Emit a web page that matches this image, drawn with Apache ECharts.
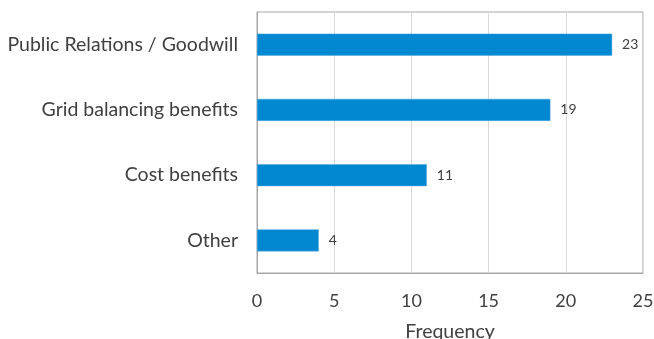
<!DOCTYPE html>
<html><head><meta charset="utf-8">
<script src="https://cdn.jsdelivr.net/npm/echarts@6/dist/echarts.min.js"></script>
<style>html,body{margin:0;padding:0;background:#fff}#c{width:654px;height:339px}</style>
</head><body><div id="c"></div>
<script>
const categories = ["Other", "Cost benefits", "Grid balancing benefits", "Public Relations / Goodwill"];
const frequency = [4, 11, 19, 23];
const xTicks = [0, 5, 10, 15, 20, 25];
const xAxisTitle = "Frequency";

const chart = echarts.init(document.getElementById('c'));
chart.setOption({
  animation: false,
  grid: {left: 257, right: 11, top: 12, bottom: 66, containLabel: false, outerBoundsMode: 'none', show: true, borderColor: '#a6a6a6', borderWidth: 1},
  xAxis: {
    type: 'value', min: xTicks[0], max: xTicks[xTicks.length-1], interval: 5,
    name: xAxisTitle, nameLocation: 'middle', nameGap: 49,
    nameTextStyle: {fontFamily: 'Lato', fontSize: 19.5, color: '#404040'},
    axisLine: {show: true, lineStyle: {color: '#a6a6a6'}},
    axisTick: {show: false},
    axisLabel: {fontFamily: 'Lato', fontSize: 18, color: '#404040', margin: 19},
    splitLine: {show: true, lineStyle: {color: '#d9d9d9'}}
  },
  yAxis: {
    type: 'category', data: categories,
    axisLine: {show: true, lineStyle: {color: '#a6a6a6'}},
    axisTick: {show: false},
    axisLabel: {fontFamily: 'Lato', fontSize: 19.5, color: '#404040', margin: 19}
  },
  series: [{
    type: 'bar', data: frequency, barWidth: 22,
    itemStyle: {color: '#0288d1', borderColor: '#4aa8e0', borderWidth: 0.5},
    label: {show: true, position: 'right', distance: 10, fontFamily: 'Lato', fontSize: 14, color: '#404040'}
  }]
});
</script></body></html>
